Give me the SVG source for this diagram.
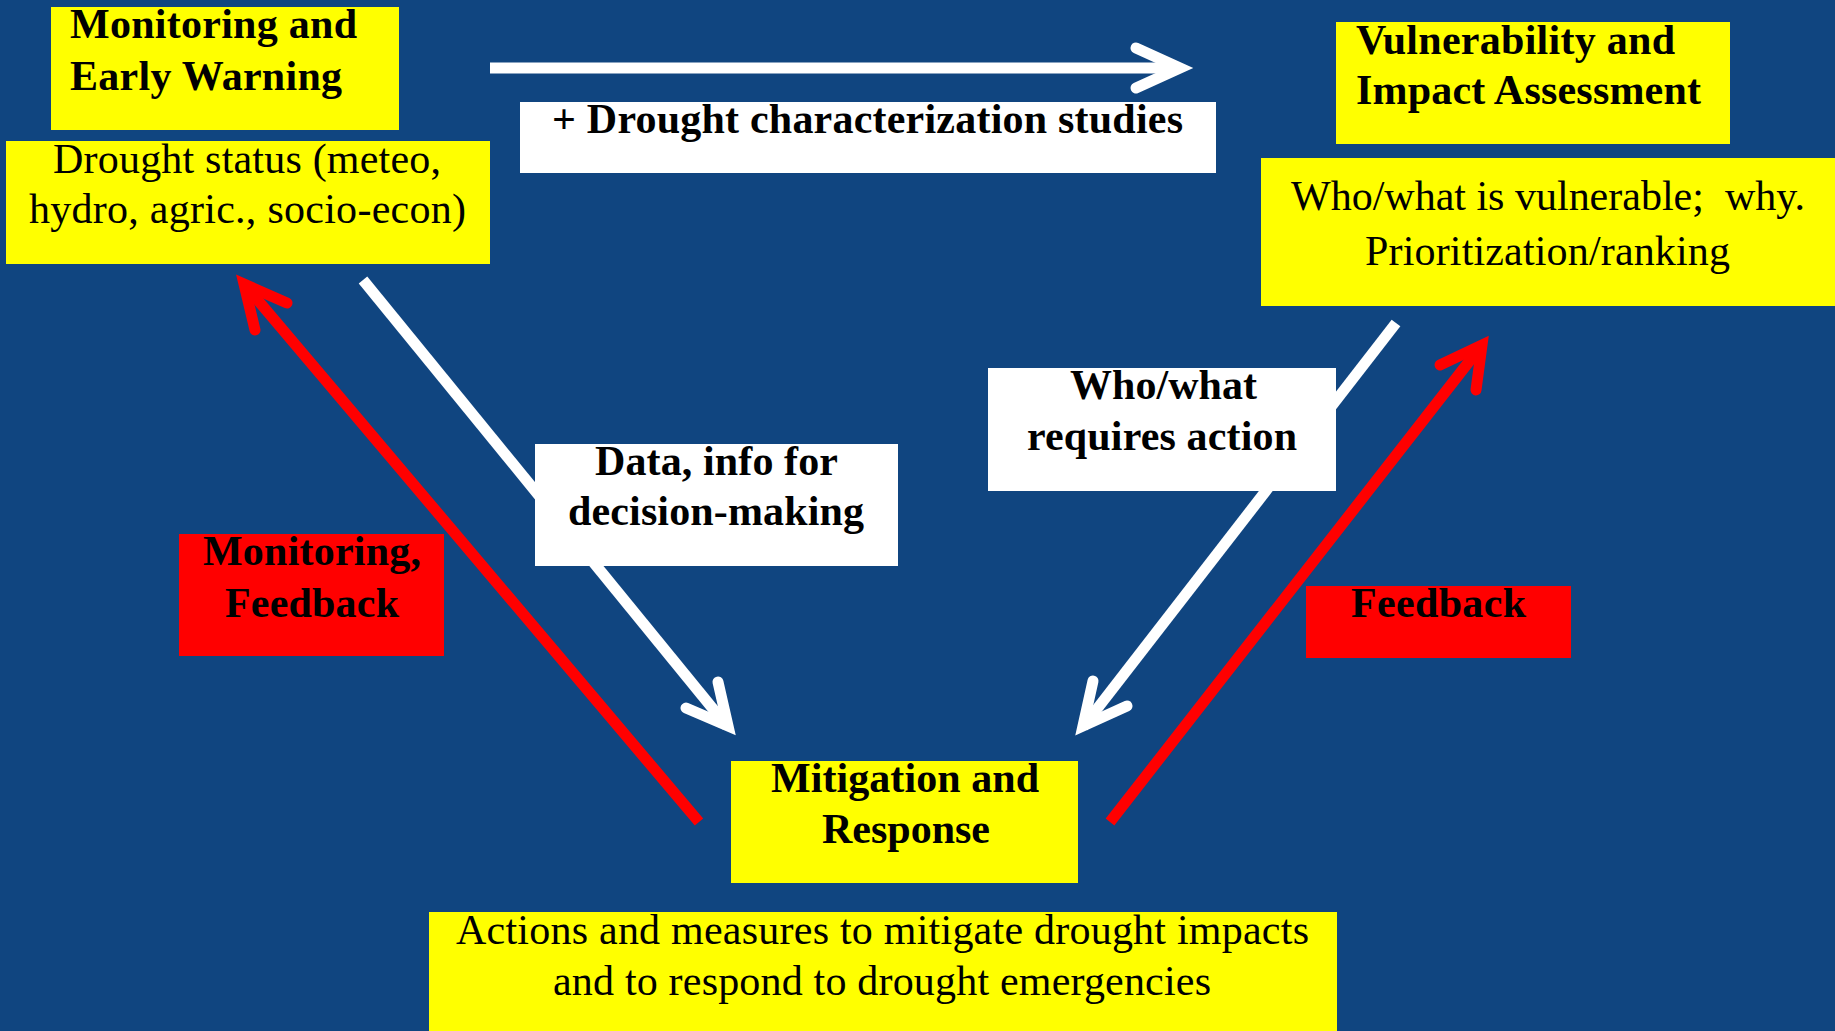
<svg xmlns="http://www.w3.org/2000/svg" width="1835" height="1031" viewBox="0 0 1835 1031">
<style>
.bg{fill:#104580}
.y{fill:#FFFF00}
.r{fill:#FF0000}
.w{fill:#FFFFFF}
text{font-family:'Liberation Serif',serif;font-size:42px;fill:#000}
.tb{font-weight:bold}
.tn{font-weight:normal}
.lw{stroke:#FFFFFF;stroke-width:11;fill:none}
.lr{stroke:#FF0000;stroke-width:11;fill:none}
.hd{stroke-linecap:round;stroke-linejoin:miter;stroke-miterlimit:10}
</style>
<rect class="bg" x="0" y="0" width="1835" height="1031"/>
<g id="connectors">
  <line class="lw" x1="490" y1="68" x2="1178" y2="68"/>
  <polyline class="lw hd" points="1136,48 1180,68 1136,88"/>
  <line class="lw" x1="363" y1="280" x2="727" y2="726"/>
  <polyline class="lw hd" points="718,682 728,726 686,708"/>
  <line class="lw" x1="1396" y1="323" x2="1083" y2="727"/>
  <polyline class="lw hd" points="1093,681 1083,726 1127,706"/>
  <line class="lr" x1="699" y1="822" x2="245" y2="285"/>
  <polyline class="lr hd" points="287,303 244,284 255,330"/>
  <line class="lr" x1="1110" y1="822" x2="1482" y2="345"/>
  <polyline class="lr hd" points="1440,365 1482,345 1476,390"/>
</g>
<g id="monitoring-title">
  <rect class="y" x="51" y="7" width="348" height="123"/>
  <text class="tb" font-family="Liberation Serif, serif" x="70" y="38" textLength="287">Monitoring and</text>
  <text class="tb" font-family="Liberation Serif, serif" x="70" y="90" textLength="272">Early Warning</text>
</g>
<g id="monitoring-desc">
  <rect class="y" x="6" y="141" width="484" height="123"/>
  <text class="tn" font-family="Liberation Serif, serif" x="53" y="173" textLength="388">Drought status (meteo,</text>
  <text class="tn" font-family="Liberation Serif, serif" x="29" y="223" textLength="437">hydro, agric., socio-econ)</text>
</g>
<g id="label-characterization">
  <rect class="w" x="520" y="102" width="696" height="71"/>
  <text class="tb" font-family="Liberation Serif, serif" x="552" y="133" textLength="631">+ Drought characterization studies</text>
</g>
<g id="vulnerability-title">
  <rect class="y" x="1336" y="22" width="394" height="122"/>
  <text class="tb" font-family="Liberation Serif, serif" x="1356" y="54" textLength="319">Vulnerability and</text>
  <text class="tb" font-family="Liberation Serif, serif" x="1356" y="104" textLength="345">Impact Assessment</text>
</g>
<g id="vulnerability-desc">
  <rect class="y" x="1261" y="158" width="574" height="148"/>
  <text class="tn" font-family="Liberation Serif, serif" x="1291" y="210" textLength="514" xml:space="preserve">Who/what is vulnerable;  why.</text>
  <text class="tn" font-family="Liberation Serif, serif" x="1365" y="265" textLength="365">Prioritization/ranking</text>
</g>
<g id="label-data">
  <rect class="w" x="535" y="444" width="363" height="122"/>
  <text class="tb" font-family="Liberation Serif, serif" x="595" y="475" textLength="243">Data, info for</text>
  <text class="tb" font-family="Liberation Serif, serif" x="568" y="525" textLength="296">decision-making</text>
</g>
<g id="label-action">
  <rect class="w" x="988" y="368" width="348" height="123"/>
  <text class="tb" font-family="Liberation Serif, serif" x="1070" y="399" textLength="187">Who/what</text>
  <text class="tb" font-family="Liberation Serif, serif" x="1027" y="450" textLength="270">requires action</text>
</g>
<g id="label-monitoring-feedback">
  <rect class="r" x="179" y="534" width="265" height="122"/>
  <text class="tb" font-family="Liberation Serif, serif" x="203" y="565" textLength="218">Monitoring,</text>
  <text class="tb" font-family="Liberation Serif, serif" x="225" y="617" textLength="174">Feedback</text>
</g>
<g id="label-feedback">
  <rect class="r" x="1306" y="586" width="265" height="72"/>
  <text class="tb" font-family="Liberation Serif, serif" x="1351" y="617" textLength="175">Feedback</text>
</g>
<g id="mitigation-title">
  <rect class="y" x="731" y="761" width="347" height="122"/>
  <text class="tb" font-family="Liberation Serif, serif" x="771" y="792" textLength="268">Mitigation and</text>
  <text class="tb" font-family="Liberation Serif, serif" x="822" y="843" textLength="168">Response</text>
</g>
<g id="mitigation-desc">
  <rect class="y" x="429" y="912" width="908" height="119"/>
  <text class="tn" font-family="Liberation Serif, serif" x="456" y="944" textLength="853">Actions and measures to mitigate drought impacts</text>
  <text class="tn" font-family="Liberation Serif, serif" x="553" y="995" textLength="658">and to respond to drought emergencies</text>
</g>
</svg>
